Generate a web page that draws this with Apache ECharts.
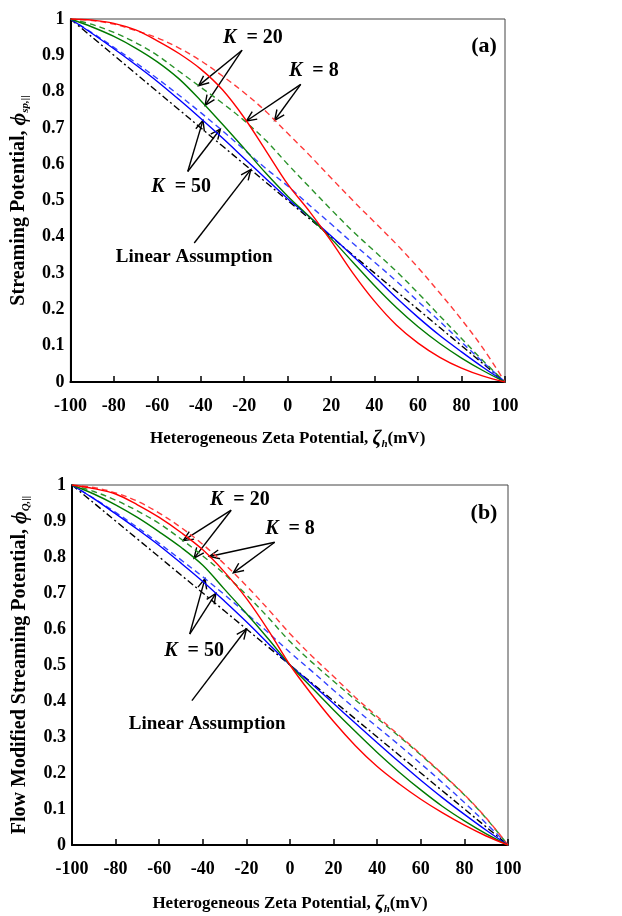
<!DOCTYPE html>
<html>
<head>
<meta charset="utf-8">
<script src="https://cdn.jsdelivr.net/npm/echarts@6/dist/echarts.min.js"></script>
<style>
  html, body { margin: 0; background: #fff; }
  #chart { width: 622px; height: 916px; }
</style>
</head>
<body>
<div id="chart"></div>
<script>
// heterogeneous zeta potential (mV)
const zeta = [-100, -90, -80, -70, -60, -50, -40, -30, -20, -10, 0, 10, 20, 30, 40, 50, 60, 70, 80, 90, 100];

// panel (a) streaming potential
const aRedSolid   = [1, 0.997, 0.988, 0.97, 0.94, 0.905, 0.862, 0.805, 0.728, 0.637, 0.545, 0.47, 0.388, 0.3, 0.222, 0.157, 0.107, 0.068, 0.038, 0.016, 0];
const aRedDash    = [1, 0.996, 0.986, 0.968, 0.948, 0.92, 0.885, 0.843, 0.797, 0.745, 0.685, 0.625, 0.562, 0.5, 0.44, 0.38, 0.315, 0.245, 0.172, 0.092, 0];
const aGreenSolid = [1, 0.978, 0.952, 0.92, 0.882, 0.835, 0.775, 0.71, 0.643, 0.575, 0.512, 0.455, 0.395, 0.33, 0.265, 0.205, 0.152, 0.106, 0.066, 0.031, 0];
const aGreenDash  = [1, 0.985, 0.963, 0.935, 0.9, 0.856, 0.812, 0.768, 0.72, 0.665, 0.6, 0.537, 0.475, 0.415, 0.36, 0.305, 0.245, 0.182, 0.12, 0.058, 0];
const aBlueSolid  = [1, 0.96, 0.918, 0.874, 0.828, 0.778, 0.726, 0.672, 0.616, 0.56, 0.505, 0.455, 0.402, 0.347, 0.29, 0.232, 0.178, 0.128, 0.083, 0.04, 0];
const aBlueDash   = [1, 0.962, 0.922, 0.88, 0.836, 0.79, 0.742, 0.692, 0.64, 0.588, 0.54, 0.487, 0.435, 0.382, 0.33, 0.278, 0.222, 0.167, 0.11, 0.054, 0];
const aLinear     = [1, 0.95, 0.9, 0.85, 0.8, 0.75, 0.7, 0.65, 0.6, 0.55, 0.5, 0.45, 0.4, 0.35, 0.3, 0.25, 0.2, 0.15, 0.1, 0.05, 0];

// panel (b) flow modified streaming potential
const bRedSolid   = [1, 0.99, 0.975, 0.945, 0.91, 0.868, 0.82, 0.758, 0.685, 0.597, 0.5, 0.418, 0.343, 0.276, 0.218, 0.17, 0.127, 0.089, 0.055, 0.025, 0];
const bRedDash    = [1, 0.993, 0.978, 0.955, 0.922, 0.882, 0.835, 0.78, 0.72, 0.655, 0.587, 0.525, 0.468, 0.41, 0.357, 0.305, 0.252, 0.197, 0.14, 0.075, 0];
const bGreenSolid = [1, 0.975, 0.945, 0.91, 0.87, 0.827, 0.777, 0.71, 0.643, 0.573, 0.5, 0.437, 0.375, 0.315, 0.257, 0.203, 0.153, 0.107, 0.067, 0.031, 0];
const bGreenDash  = [1, 0.982, 0.958, 0.928, 0.893, 0.85, 0.803, 0.752, 0.695, 0.632, 0.565, 0.508, 0.455, 0.403, 0.352, 0.302, 0.25, 0.196, 0.139, 0.074, 0];
const bBlueSolid  = [1, 0.962, 0.92, 0.877, 0.832, 0.783, 0.732, 0.677, 0.62, 0.56, 0.5, 0.447, 0.393, 0.338, 0.284, 0.231, 0.18, 0.131, 0.085, 0.041, 0];
const bBlueDash   = [1, 0.963, 0.924, 0.882, 0.838, 0.792, 0.745, 0.695, 0.643, 0.59, 0.535, 0.483, 0.43, 0.378, 0.328, 0.278, 0.226, 0.173, 0.118, 0.06, 0];
const bLinear     = [1, 0.95, 0.9, 0.85, 0.8, 0.75, 0.7, 0.65, 0.6, 0.55, 0.5, 0.45, 0.4, 0.35, 0.3, 0.25, 0.2, 0.15, 0.1, 0.05, 0];

const FONT = '"Liberation Serif","DejaVu Serif",serif';
const chart = echarts.init(document.getElementById('chart'));

const pairs = arr => arr.map((v, i) => [zeta[i], v]);

function curve(name, arr, g, color, type) {
  return {
    name: name, type: 'line', xAxisIndex: g, yAxisIndex: g,
    data: pairs(arr), showSymbol: false, smooth: 0.35,
    lineStyle: { color: color, width: 1.4, type: type },
    silent: true, animation: false
  };
}

const DASH = [6, 4];
const DASHDOT = [7, 3, 2, 3];

function xAx(g, gap, margin) {
  return {
    type: 'value', gridIndex: g, min: -100, max: 100, interval: 20,
    axisLine: { onZero: false, lineStyle: { color: '#000', width: 2 } },
    axisTick: { inside: true, length: 6, lineStyle: { color: '#000', width: 1.5 } },
    splitLine: { show: false },
    axisLabel: { color: '#000', fontFamily: FONT, fontWeight: 'bold', fontSize: 18, margin: margin },
    name: '{b|Heterogeneous Zeta Potential, }{z|ζ}{s|h}{b|(mV)}',
    nameLocation: 'middle', nameGap: gap,
    nameTextStyle: {
      rich: {
        b: { fontFamily: FONT, fontWeight: 'bold', fontSize: 17, color: '#000', lineHeight: 22 },
        z: { fontFamily: FONT, fontWeight: 'bold', fontStyle: 'italic', fontSize: 20, color: '#000', lineHeight: 22 },
        s: { fontFamily: FONT, fontWeight: 'bold', fontStyle: 'italic', fontSize: 11, color: '#000', lineHeight: 12, verticalAlign: 'bottom' }
      }
    }
  };
}

function yAx(g, title, sub, gap) {
  return {
    type: 'value', gridIndex: g, min: 0, max: 1, interval: 0.1,
    axisLine: { onZero: false, lineStyle: { color: '#000', width: 2 } },
    axisTick: { show: false },
    splitLine: { show: false },
    axisLabel: {
      color: '#000', fontFamily: FONT, fontWeight: 'bold', fontSize: 18, margin: 6,
      formatter: v => (v === 0 || v === 1) ? String(v) : v.toFixed(1)
    },
    name: '{b|' + title + '}{p|ϕ}{s|' + sub + '}',
    nameLocation: 'middle', nameRotate: 90, nameGap: gap,
    nameTextStyle: {
      rich: {
        b: { fontFamily: FONT, fontWeight: 'bold', fontSize: 20, color: '#000', lineHeight: 24 },
        p: { fontFamily: FONT, fontWeight: 'bold', fontStyle: 'italic', fontSize: 22, color: '#000', lineHeight: 24 },
        s: { fontFamily: FONT, fontWeight: 'bold', fontStyle: 'italic', fontSize: 11, color: '#000', lineHeight: 12, verticalAlign: 'bottom' }
      }
    }
  };
}

chart.setOption({
  backgroundColor: '#fff',
  animation: false,
  grid: [
    { left: 69, top: 19, width: 436, height: 363, show: true, borderColor: '#444', borderWidth: 1 },
    { left: 72, top: 485, width: 436, height: 367, show: true, borderColor: '#444', borderWidth: 1 }
  ],
  xAxis: [xAx(0, 46, 15), xAx(1, 48, 15)],
  yAxis: [
    yAx(0, 'Streaming Potential, ', 'sp,||', 37),
    yAx(1, 'Flow Modified Streaming Potential, ', 'Q,||', 40)
  ],
  series: [
    curve('aLin', aLinear, 0, '#000', DASHDOT),
    curve('aBD', aBlueDash, 0, '#3344ff', DASH),
    curve('aGD', aGreenDash, 0, '#2a922a', DASH),
    curve('aRD', aRedDash, 0, '#ff3a3a', DASH),
    curve('aBS', aBlueSolid, 0, '#0000ff', 'solid'),
    curve('aGS', aGreenSolid, 0, '#007a00', 'solid'),
    curve('aRS', aRedSolid, 0, '#ff0000', 'solid'),
    curve('bLin', bLinear, 1, '#000', DASHDOT),
    curve('bBD', bBlueDash, 1, '#3344ff', DASH),
    curve('bGD', bGreenDash, 1, '#2a922a', DASH),
    curve('bRD', bRedDash, 1, '#ff3a3a', DASH),
    curve('bBS', bBlueSolid, 1, '#0000ff', 'solid'),
    curve('bGS', bGreenSolid, 1, '#007a00', 'solid'),
    curve('bRS', bRedSolid, 1, '#ff0000', 'solid')
  ]
});

// annotations: label position, arrow origin, arrow tips on named curves (data coords)
const curves = {
  aRS: aRedSolid, aRD: aRedDash, aGS: aGreenSolid, aGD: aGreenDash, aBS: aBlueSolid, aBD: aBlueDash, aLin: aLinear,
  bRS: bRedSolid, bRD: bRedDash, bGS: bGreenSolid, bGD: bGreenDash, bBS: bBlueSolid, bBD: bBlueDash, bLin: bLinear
};
const notes = [
  { g: 0, k: '20', at: [-16, 0.949], from: [-21, 0.914], tips: [['aGD', -41], ['aGS', -38]] },
  { g: 0, k: '8', at: [12, 0.856], from: [6, 0.82], tips: [['aRS', -19], ['aRD', -6]] },
  { g: 0, k: '50', at: [-49, 0.539], from: [-46, 0.58], tips: [['aBS', -39], ['aBD', -31]] },
  { g: 0, lin: true, at: [-43, 0.343], from: [-43, 0.383], tips: [['aLin', -17]] },
  { g: 1, k: '20', at: [-23, 0.959], from: [-27, 0.93], tips: [['bGD', -49], ['bGS', -44]] },
  { g: 1, k: '8', at: [0, 0.877], from: [-7, 0.841], tips: [['bRS', -37], ['bRD', -26]] },
  { g: 1, k: '50', at: [-44, 0.54], from: [-46, 0.586], tips: [['bBD', -39], ['bBS', -34]] },
  { g: 1, lin: true, at: [-38, 0.337], from: [-45, 0.401], tips: [['bLin', -20]] }
];

function interp(arr, z) {
  const f = (z + 100) / 10, i = Math.min(Math.floor(f), 19), t = f - i;
  return arr[i] * (1 - t) + arr[i + 1] * t;
}

const graphics = [];
const richK = {
  k: { fontFamily: FONT, fontWeight: 'bold', fontStyle: 'italic', fontSize: 20, fill: '#000' },
  n: { fontFamily: FONT, fontWeight: 'bold', fontSize: 20, fill: '#000' }
};
notes.forEach(n => {
  const p = chart.convertToPixel({ gridIndex: n.g }, n.at);
  graphics.push({
    type: 'text', x: p[0], y: p[1], silent: true,
    style: n.lin
      ? { text: 'Linear Assumption', fontFamily: FONT, fontWeight: 'bold', fontSize: 19, fill: '#000', align: 'center', verticalAlign: 'middle' }
      : { text: '{k|K}{n|  = ' + n.k + '}', rich: richK, align: 'center', verticalAlign: 'middle' }
  });
  const f = chart.convertToPixel({ gridIndex: n.g }, n.from);
  n.tips.forEach(t => {
    const tp = chart.convertToPixel({ gridIndex: n.g }, [t[1], interp(curves[t[0]], t[1])]);
    const dx = tp[0] - f[0], dy = tp[1] - f[1], len = Math.hypot(dx, dy);
    const ux = dx / len, uy = dy / len, L = 11, a = 0.42;
    const h1 = [tp[0] - L * (ux * Math.cos(a) - uy * Math.sin(a)), tp[1] - L * (uy * Math.cos(a) + ux * Math.sin(a))];
    const h2 = [tp[0] - L * (ux * Math.cos(a) + uy * Math.sin(a)), tp[1] - L * (uy * Math.cos(a) - ux * Math.sin(a))];
    graphics.push({ type: 'line', silent: true, shape: { x1: f[0], y1: f[1], x2: tp[0], y2: tp[1] }, style: { stroke: '#000', lineWidth: 1.4 } });
    graphics.push({ type: 'polyline', silent: true, shape: { points: [h1, tp, h2] }, style: { stroke: '#000', lineWidth: 1.4, fill: null } });
  });
});
graphics.push({ type: 'text', x: 484, y: 46, silent: true, style: { text: '(a)', fontFamily: FONT, fontWeight: 'bold', fontSize: 22, fill: '#000', align: 'center', verticalAlign: 'middle' } });
graphics.push({ type: 'text', x: 484, y: 513, silent: true, style: { text: '(b)', fontFamily: FONT, fontWeight: 'bold', fontSize: 22, fill: '#000', align: 'center', verticalAlign: 'middle' } });

chart.setOption({ graphic: graphics });
</script>
</body>
</html>
